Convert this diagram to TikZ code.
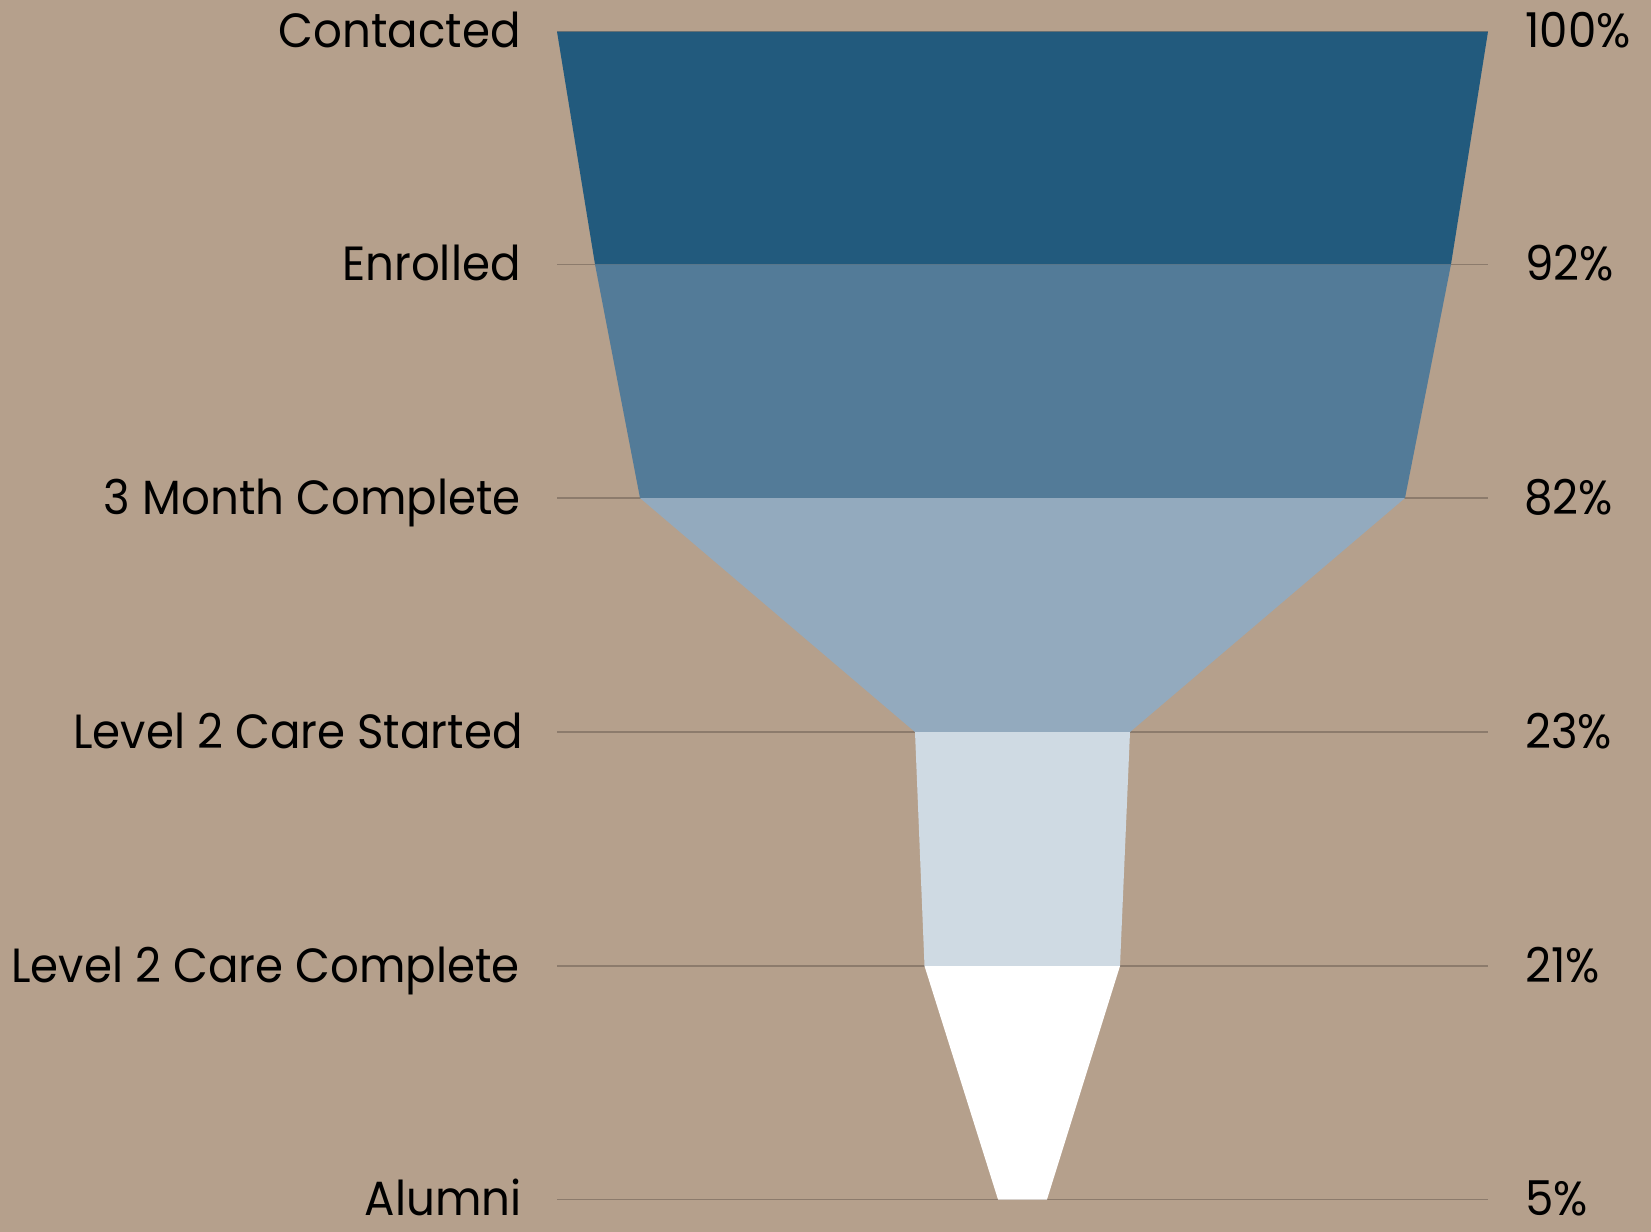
\documentclass[tikz,border=0pt]{standalone}
\usepackage{fontspec}
\setmainfont[FakeStretch=0.94]{Poppins}
\definecolor{bg}{HTML}{B5A08C}
\definecolor{cA}{HTML}{225A7D}
\definecolor{cB}{HTML}{537B98}
\definecolor{cC}{HTML}{93AABE}
\definecolor{cD}{HTML}{CFDAE3}
\definecolor{cE}{HTML}{FFFFFF}
\definecolor{gridc}{HTML}{8C7B6C}
\begin{document}
\begin{tikzpicture}[x=0.5pt,y=-0.5pt,
  lbl/.style={font=\fontsize{24}{28}\selectfont, text=black, inner sep=0pt},
  lft/.style={lbl, anchor=base east},
  rgt/.style={lbl, anchor=base west},
  gridline/.style={draw=gridc, line width=0.8pt}]
\fill[bg] (0,0) rectangle (1651,1232);
\useasboundingbox (0,0) rectangle (1651,1232);
% grid lines
\foreach \y in {31.6,264.3,498,732,966,1199.5}
  \draw[gridline] (557,\y) -- (1488,\y);
% funnel
\fill[cA] (557,31.6) -- (1488,31.6) -- (1451,264.3) -- (595,264.3) -- cycle;
\fill[cB] (595,264.3) -- (1451,264.3) -- (1405,498) -- (640,498) -- cycle;
\fill[cC] (640,498) -- (1405,498) -- (1130,732) -- (915,732) -- cycle;
\fill[cD] (915,732) -- (1130,732) -- (1120,966) -- (924.5,966) -- cycle;
\fill[cE] (924.5,966) -- (1120,966) -- (1047,1199.5) -- (998,1199.5) -- cycle;
% labels
\node[lft] (l1) at (521,47) {Contacted};
\node[lft] (l2) at (521,280.3) {Enrolled};
\node[lft] (l3) at (521,514) {3 Month Complete};
\node[lft] (l4) at (523,748) {Level 2 Care Started};
\node[lft] (l5) at (520,982) {Level 2 Care Complete};
\node[lft] (l6) at (522,1215.5) {Alumni};
\node[rgt] (p1) at (1525,47) {100\%};
\node[rgt] (p2) at (1525,280.3) {92\%};
\node[rgt] (p3) at (1524,514) {82\%};
\node[rgt] (p4) at (1525,748) {23\%};
\node[rgt] (p5) at (1525,982) {21\%};
\node[rgt] (p6) at (1525,1215.5) {5\%};
\end{tikzpicture}
\end{document}
